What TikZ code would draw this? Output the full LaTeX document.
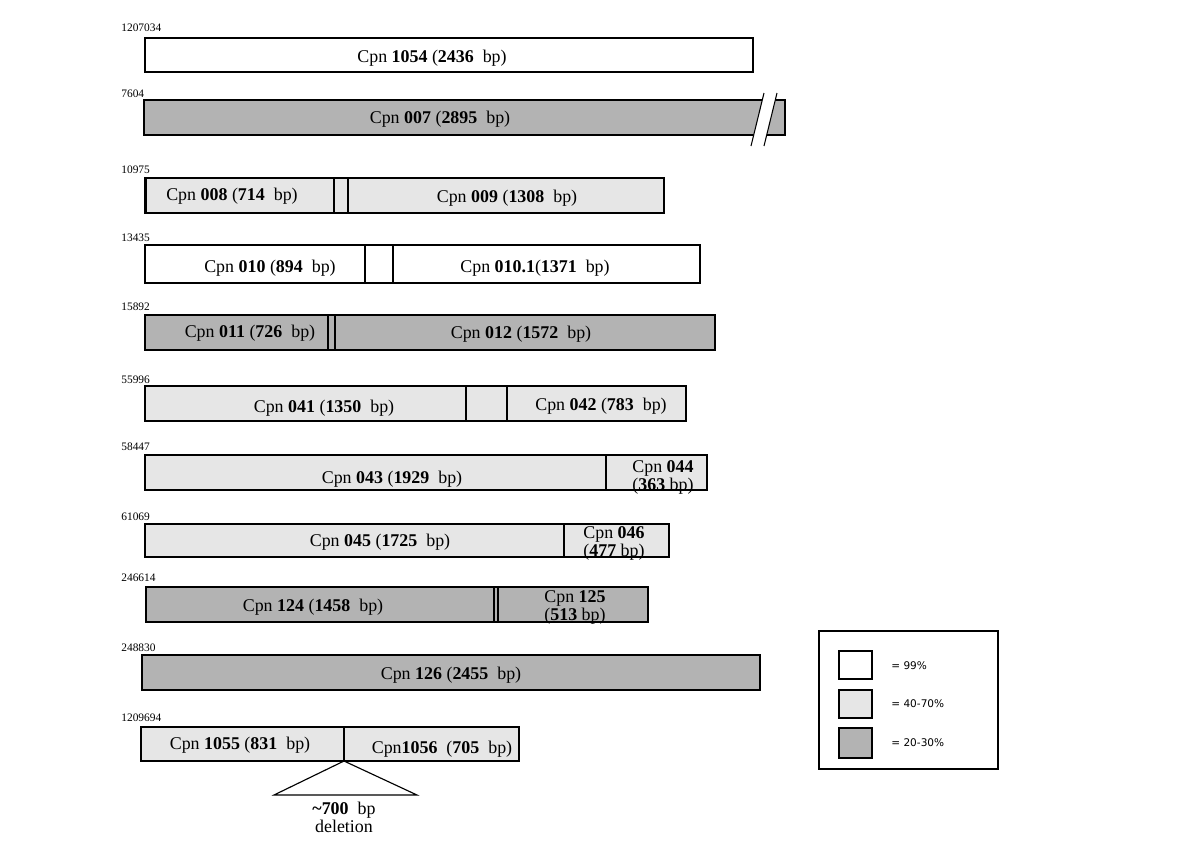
\documentclass[tikz,border=0pt]{standalone}
\usepackage{fontspec}
\setmainfont{Liberation Serif}
\newfontfamily\legendfont{DejaVu Sans}
\definecolor{idhigh}{HTML}{FFFFFF}
\definecolor{idmid}{HTML}{E6E6E6}
\definecolor{idlow}{HTML}{B3B3B3}
\tikzset{
  gene/.style={draw=black,line width=0.65pt},
  genetxt/.style={font=\fontsize{10.2}{10}\selectfont,inner sep=0pt,yshift=-1.2pt},
  twotxt/.style={font=\fontsize{10.2}{9.8}\selectfont,inner sep=0pt,align=center,yshift=-1.4pt},
  postxt/.style={font=\fontsize{6.5}{7}\selectfont,inner sep=0pt,anchor=west},
  keytxt/.style={font=\legendfont\fontsize{6}{7}\selectfont,inner sep=0pt,anchor=west}
}
\newcommand{\cpn}[2]{Cpn\ \textbf{#1} (\textbf{#2}\ \ bp)}
\begin{document}
\begin{tikzpicture}[x=0.02cm,y=-0.02cm]
  \useasboundingbox[fill=white] (0,0) rectangle (1193,843) ;
  % row 1
  \node[postxt] (p1) at (121,28) {1207034} ;
  \draw[gene,fill=idhigh] (145,38) rectangle (753,72) ;
  \node[genetxt] (g1054) at (432,56) {\cpn{1054}{2436}} ;
  % row 2 (broken bar)
  \node[postxt] (p2) at (121,94) {7604} ;
  \draw[gene,fill=idlow] (144,100) rectangle (785,135) ;
  \fill[white] (764,93)--(777,93)--(764,146)--(751,146)--cycle ;
  \draw[line width=0.6pt] (764,93)--(751,146) (777,93)--(764,146) ;
  \node[genetxt] (g007) at (440,117) {\cpn{007}{2895}} ;
  % row 3
  \node[postxt] (p3) at (121,170) {10975} ;
  \draw[gene,fill=idmid] (145,178) rectangle (664,213) ;
  \draw[line width=1.3pt] (146,178)--(146,213) ;
  \draw[gene] (334,178)--(334,213) (348,178)--(348,213) ;
  \node[genetxt] (g008) at (232,194) {Cpn\ \textbf{008} (\textbf{714}\ \ bp)} ;
  \node[genetxt] (g009) at (507,196) {\cpn{009}{1308}} ;
  % row 4
  \node[postxt] (p4) at (121,238) {13435} ;
  \draw[gene,fill=idhigh] (145,245) rectangle (700,283) ;
  \draw[gene] (365,245)--(365,283) (393,245)--(393,283) ;
  \node[genetxt] (g010) at (270,266) {\cpn{010}{894}} ;
  \node[genetxt] (g0101) at (535,266) {Cpn\ \textbf{010.1}(\textbf{1371}\ \ bp)} ;
  % row 5
  \node[postxt] (p5) at (121,307) {15892} ;
  \draw[gene,fill=idlow] (145,315) rectangle (715,350) ;
  \draw[gene] (328,315)--(328,350) (335,315)--(335,350) ;
  \node[genetxt] (g011) at (250,331) {\cpn{011}{726}} ;
  \node[genetxt] (g012) at (521,332) {\cpn{012}{1572}} ;
  % row 6
  \node[postxt] (p6) at (121,380) {55996} ;
  \draw[gene,fill=idmid] (145,386) rectangle (686,421) ;
  \draw[gene] (466,386)--(466,421) (507,386)--(507,421) ;
  \node[genetxt] (g041) at (324,406) {\cpn{041}{1350}} ;
  \node[genetxt] (g042) at (601,404) {\cpn{042}{783}} ;
  % row 7
  \node[postxt] (p7) at (121,447) {58447} ;
  \draw[gene,fill=idmid] (145,455) rectangle (707,490) ;
  \draw[gene] (606,455)--(606,490) ;
  \node[genetxt] (g043) at (392,477) {\cpn{043}{1929}} ;
  \node[twotxt] (g044) at (663,475) {Cpn\ \textbf{044}\\ (\textbf{363}\ bp)} ;
  % row 8
  \node[postxt] (p8) at (121,517) {61069} ;
  \draw[gene,fill=idmid] (145,524) rectangle (669,557) ;
  \draw[gene] (564,524)--(564,557) ;
  \node[genetxt] (g045) at (380,540) {\cpn{045}{1725}} ;
  \node[twotxt] (g046) at (614,541) {Cpn\ \textbf{046}\\(\textbf{477}\ bp)} ;
  % row 9
  \node[postxt] (p9) at (121,578) {246614} ;
  \draw[gene,fill=idlow] (146,587) rectangle (648,622) ;
  \draw[gene] (494,587)--(494,622) (498,587)--(498,622) ;
  \node[genetxt] (g124) at (313,605) {Cpn\ \textbf{124} (\textbf{1458}\ \ bp)} ;
  \node[twotxt] (g125) at (575,605) {Cpn\ \textbf{125}\\(\textbf{513}\ bp)} ;
  % row 10
  \node[postxt] (p10) at (121,648) {248830} ;
  \draw[gene,fill=idlow] (142,655) rectangle (760,690) ;
  \node[genetxt] (g126) at (451,673) {\cpn{126}{2455}} ;
  % row 11 + deletion
  \node[postxt] (p11) at (121,718) {1209694} ;
  \draw[gene,fill=idmid] (141,727) rectangle (519,761) ;
  \draw[gene] (344,727)--(344,761) ;
  \node[genetxt] (g1055) at (240,743) {Cpn\ \textbf{1055} (\textbf{831}\ \ bp)} ;
  \node[genetxt] (g1056) at (442,747) {Cpn\textbf{1056}\ \ (\textbf{705}\ \ bp)} ;
  \draw[line width=0.65pt] (344,761)--(274,795)--(417,795)--cycle ;
  \node[twotxt] (del) at (344,815) {\textbf{\textasciitilde700}\ \ bp\\deletion} ;
  % legend
  \draw[gene] (819,631) rectangle (998,769) ;
  \draw[gene,fill=idhigh] (839,651) rectangle (872,679) ;
  \draw[gene,fill=idmid] (839,690) rectangle (872,718) ;
  \draw[gene,fill=idlow] (839,728) rectangle (872,758) ;
  \node[keytxt] (k1) at (891,666) {= 99\%} ;
  \node[keytxt] (k2) at (891,704) {= 40-70\%} ;
  \node[keytxt] (k3) at (891,743) {= 20-30\%} ;
\end{tikzpicture}
\end{document}
